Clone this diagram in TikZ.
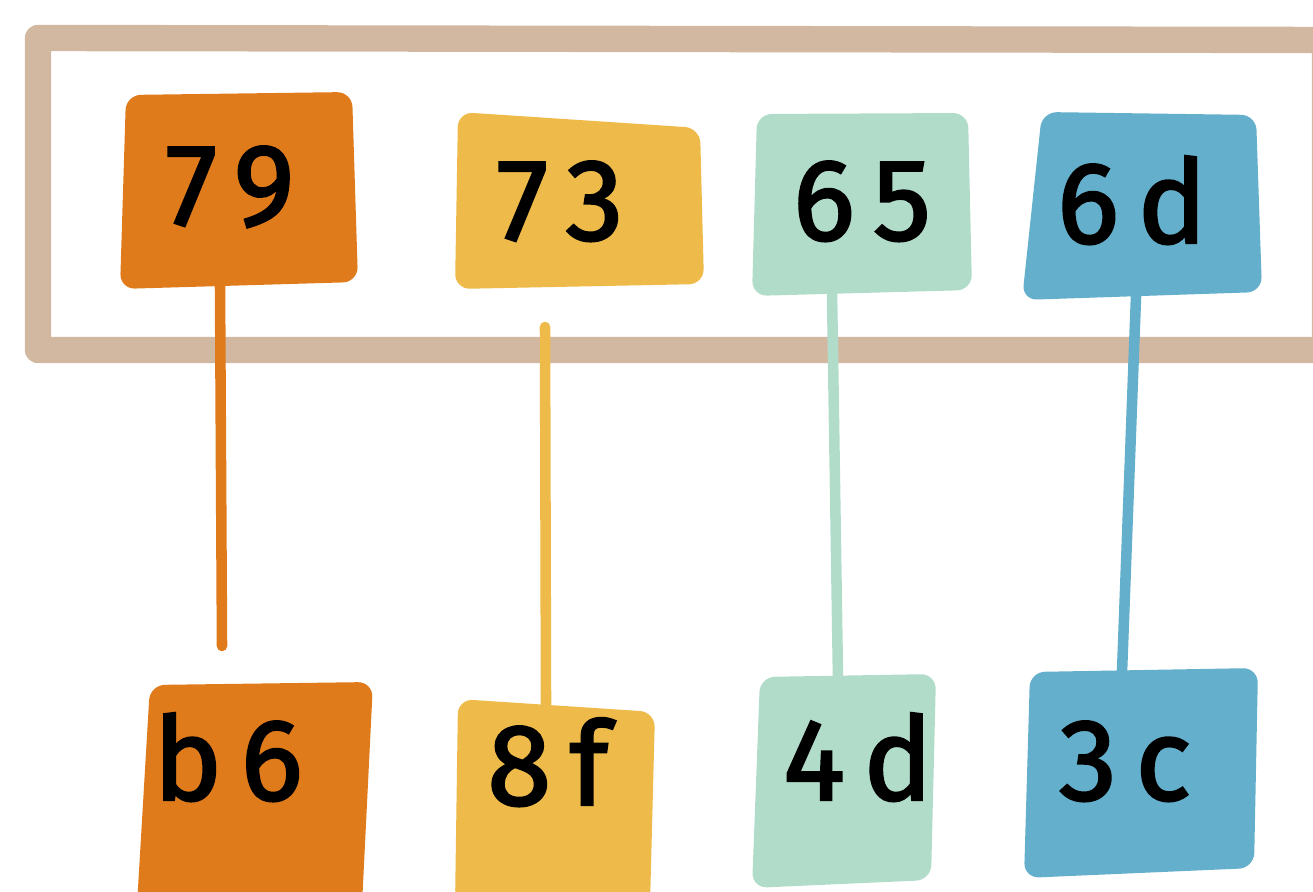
\documentclass[tikz,border=0pt]{standalone}
\usepackage{fontspec}
\setmainfont{Fira Sans}
\definecolor{tan}{RGB}{211,184,161}
\definecolor{orng}{RGB}{224,123,27}
\definecolor{ylw}{RGB}{238,187,74}
\definecolor{mint}{RGB}{178,220,202}
\definecolor{sky}{RGB}{100,175,203}
\begin{document}
\begin{tikzpicture}[x=0.01cm,y=-0.01cm,
  frame/.style={draw=tan, line width=7.5pt, line cap=round, line join=round},
  patch/.style={rounded corners=0.15cm},
  digits/.style={inner sep=0pt, anchor=base, text=black,
    font=\fontsize{33}{33}\selectfont\addfontfeature{LetterSpace=16,FakeBold=2}},
  wire/.style={line width=3pt, line cap=round},
]
\useasboundingbox (0,0) rectangle (1313,892);
\clip (0,0) rectangle (1313,892);

% outer frame around the upper row
\draw[frame] (38,38) -- (1325,40) -- (1325,350) -- (38,350) -- cycle;

% anchor points of the hanging wires
\coordinate (w79a) at (220,285);  \coordinate (w79b) at (222,646);
\coordinate (w73a) at (545,327);  \coordinate (w73b) at (546,704);
\coordinate (w65a) at (832,292);  \coordinate (w65b) at (838,680);
\coordinate (w6da) at (1136,296); \coordinate (w6db) at (1122,672);

\draw[wire, orng] (w79a) -- (w79b);
\draw[wire, ylw]  (w73a) -- (w73b);
\draw[wire, mint] (w65a) -- (w65b);
\draw[wire, sky]  (w6da) -- (w6db);

% upper row of patches
\fill[orng, patch] (126,95) -- (352,92) -- (358,282) -- (120,289) -- cycle;
\fill[ylw,  patch] (458,112) -- (700,128) -- (704,284) -- (455,289) -- cycle;
\fill[mint, patch] (757,114) -- (968,113) -- (972,290) -- (752,296) -- cycle;
\fill[sky,  patch] (1042,112) -- (1256,115) -- (1262,292) -- (1022,300) -- cycle;

% lower row of patches
\fill[orng, patch] (150,685) -- (373,682) -- (362,905) -- (137,905) -- cycle;
\fill[ylw,  patch] (458,699) -- (655,712) -- (650,905) -- (455,905) -- cycle;
\fill[mint, patch] (760,677) -- (936,674) -- (931,880) -- (752,888) -- cycle;
\fill[sky,  patch] (1030,672) -- (1258,668) -- (1254,868) -- (1024,878) -- cycle;

% labels
\node[digits] (n79) at (230,225) {79};
\node[digits] (n73) at (560,240) {73};
\node[digits] (n65) at (862,240) {65};
\node[digits] (n6d) at (1132,243) {6d};
\node[digits] (nb6) at (228,800) {b6};
\node[digits] (n8f) at (548,805) {8f};
\node[digits] (n4d) at (858,800) {4d};
\node[digits] (n3c) at (1125,800) {3c};
\end{tikzpicture}
\end{document}
